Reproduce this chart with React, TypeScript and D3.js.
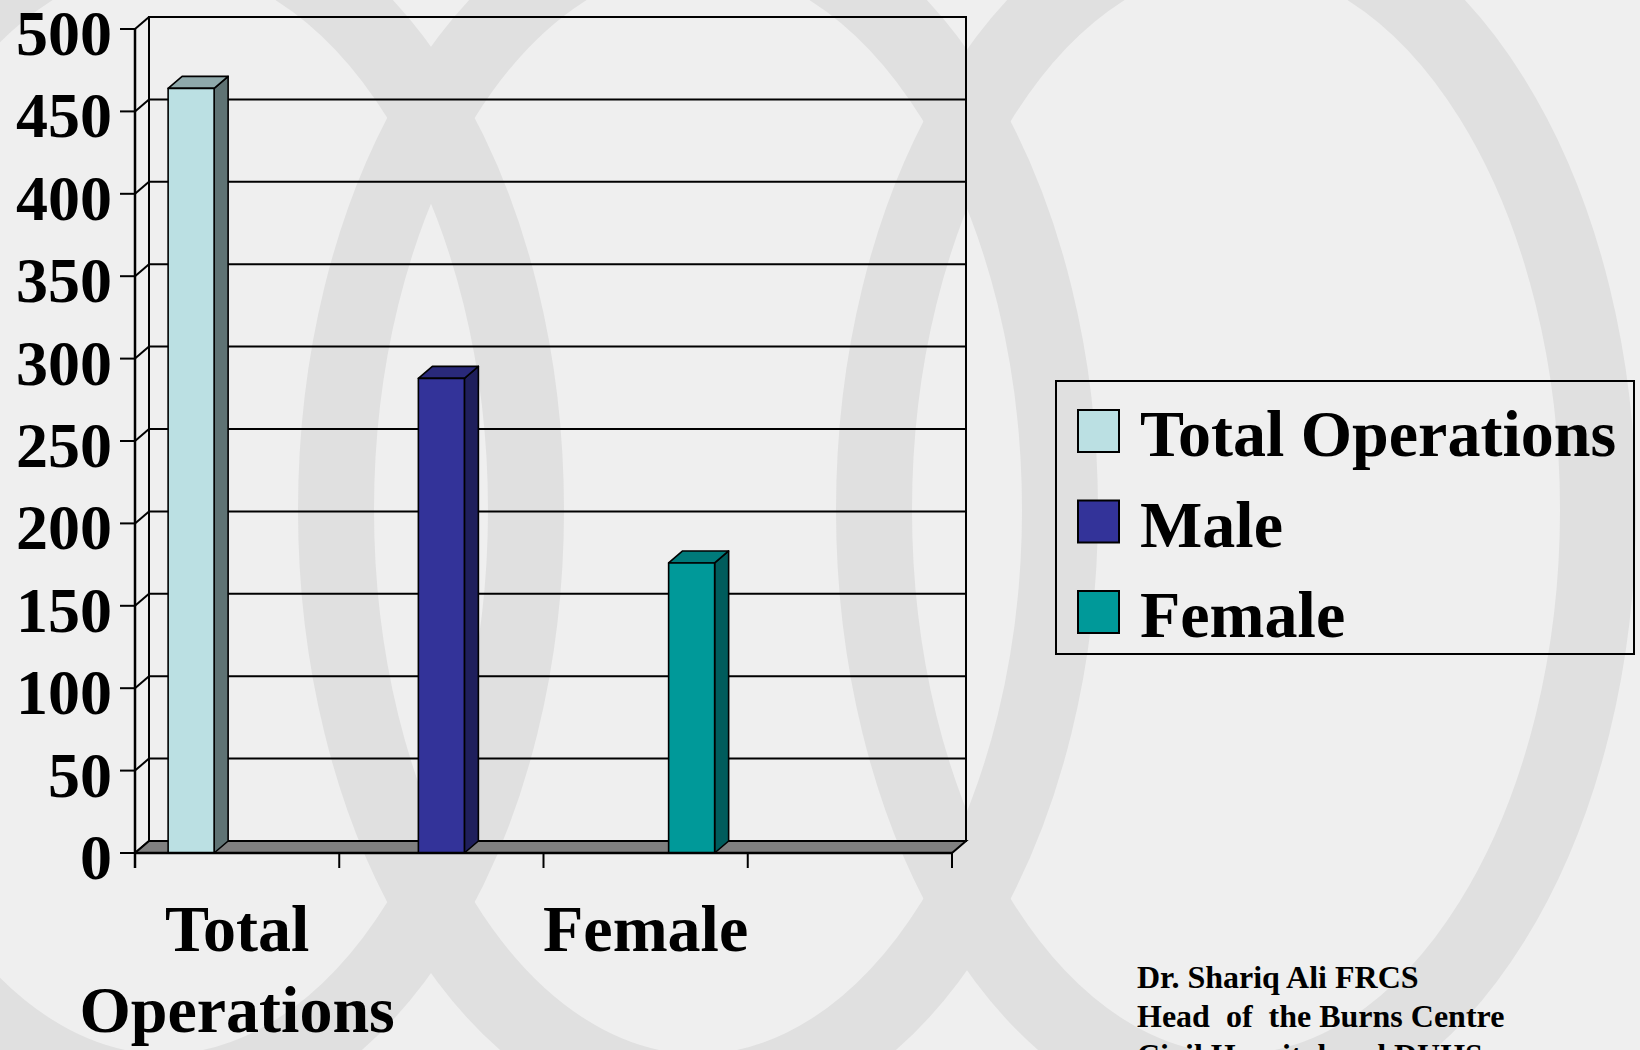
import React, { useEffect, useRef } from "react";
import * as d3 from "d3";

// chart data
const categories = ["Total Operations", "Male", "Female", ""];
const seriesNames = ["Total Operations", "Male", "Female"];
const totalOperations = [464, null, null, null];
const male = [null, 288, null, null];
const female = [null, null, 176, null];
const yTicks = [0, 50, 100, 150, 200, 250, 300, 350, 400, 450, 500];
const footerLines = [
  "Dr. Shariq Ali FRCS",
  "Head  of  the Burns Centre",
  "Civil Hospital and DUHS",
];

const seriesValues = [totalOperations, male, female];
const frontColors = ["#BBE0E3", "#333399", "#009999"];
const topColors = ["#8FA9AB", "#29297A", "#007A7A"];
const sideColors = ["#5F7374", "#1F1F5C", "#005C5C"];

const W = 1640;
const H = 1050;
const font = "'Liberation Serif', 'Times New Roman', serif";

export default function App() {
  const ref = useRef<SVGSVGElement>(null);

  useEffect(() => {
    const svg = d3.select(ref.current);
    svg.selectAll("*").remove();

    // background with the big pale rings
    svg.append("rect").attr("width", W).attr("height", H).attr("fill", "#EFEFEF");
    svg
      .selectAll("ellipse.ring")
      .data([164, 698, 1236])
      .enter()
      .append("ellipse")
      .attr("class", "ring")
      .attr("cx", (d) => d)
      .attr("cy", 510)
      .attr("rx", 362)
      .attr("ry", 582)
      .attr("fill", "none")
      .attr("stroke", "#E0E0E0")
      .attr("stroke-width", 76);

    const x = d3.scaleBand().domain(categories).range([135, 952]);
    const xs = d3
      .scaleBand()
      .domain(seriesNames)
      .range([0, x.bandwidth()])
      .paddingInner(0)
      .paddingOuter(0.72);
    const y = d3.scaleLinear().domain([0, 500]).range([853, 29]);
    const dx = 14;
    const dy = 12;
    const x0 = x.range()[0];
    const x1 = x.range()[1];
    const yTop = y(500);
    const yBase = y(0);

    const chart = svg.append("g").attr("stroke", "#000").attr("stroke-width", 2);

    // back wall + gridlines
    chart
      .append("rect")
      .attr("x", x0 + dx)
      .attr("y", yTop - dy)
      .attr("width", x1 - x0)
      .attr("height", yBase - yTop)
      .attr("fill", "none");

    chart
      .selectAll("line.grid")
      .data(yTicks.filter((v) => v > 0 && v < 500))
      .enter()
      .append("line")
      .attr("class", "grid")
      .attr("x1", x0 + dx)
      .attr("x2", x1 + dx)
      .attr("y1", (d) => y(d) - dy)
      .attr("y2", (d) => y(d) - dy);

    // side wall diagonals
    chart
      .selectAll("line.side")
      .data(yTicks)
      .enter()
      .append("line")
      .attr("class", "side")
      .attr("x1", x0)
      .attr("y1", (d) => y(d))
      .attr("x2", x0 + dx)
      .attr("y2", (d) => y(d) - dy);

    // floor
    chart
      .append("polygon")
      .attr(
        "points",
        [
          [x0, yBase],
          [x1, yBase],
          [x1 + dx, yBase - dy],
          [x0 + dx, yBase - dy],
        ]
          .map((p) => p.join(","))
          .join(" ")
      )
      .attr("fill", "#808080");

    // bars
    seriesValues.forEach((vals, si) => {
      vals.forEach((v, ci) => {
        if (v == null) return;
        const bx = x(categories[ci]) + xs(seriesNames[si]);
        const bw = xs.bandwidth();
        const yv = y(v);
        const g = chart.append("g").attr("stroke-width", 1.6).attr("stroke-linejoin", "round");
        g.append("polygon")
          .attr(
            "points",
            [
              [bx + bw, yv],
              [bx + bw + dx, yv - dy],
              [bx + bw + dx, yBase - dy],
              [bx + bw, yBase],
            ]
              .map((p) => p.join(","))
              .join(" ")
          )
          .attr("fill", sideColors[si]);
        g.append("polygon")
          .attr(
            "points",
            [
              [bx, yv],
              [bx + dx, yv - dy],
              [bx + bw + dx, yv - dy],
              [bx + bw, yv],
            ]
              .map((p) => p.join(","))
              .join(" ")
          )
          .attr("fill", topColors[si]);
        g.append("rect")
          .attr("x", bx)
          .attr("y", yv)
          .attr("width", bw)
          .attr("height", yBase - yv)
          .attr("fill", frontColors[si]);
      });
    });

    // axes
    chart
      .append("line")
      .attr("x1", x0)
      .attr("x2", x1)
      .attr("y1", yBase)
      .attr("y2", yBase)
      .attr("stroke-width", 2.5);
    chart
      .append("line")
      .attr("x1", x0)
      .attr("x2", x0)
      .attr("y1", yTop)
      .attr("y2", yBase + 15)
      .attr("stroke-width", 2.5);

    chart
      .selectAll("line.ytick")
      .data(yTicks)
      .enter()
      .append("line")
      .attr("class", "ytick")
      .attr("x1", x0 - 15)
      .attr("x2", x0)
      .attr("y1", (d) => y(d))
      .attr("y2", (d) => y(d));

    chart
      .selectAll("line.xtick")
      .data(categories.map((c) => x(c)).concat([x1]))
      .enter()
      .append("line")
      .attr("class", "xtick")
      .attr("x1", (d) => d)
      .attr("x2", (d) => d)
      .attr("y1", yBase)
      .attr("y2", yBase + 15);

    svg
      .selectAll("text.ylab")
      .data(yTicks)
      .enter()
      .append("text")
      .attr("class", "ylab")
      .attr("x", 112)
      .attr("y", (d) => y(d) + 26)
      .attr("text-anchor", "end")
      .attr("font-family", font)
      .attr("font-weight", "bold")
      .attr("font-size", 64)
      .text((d) => d);

    // category labels, every other one like the original
    categories.forEach((c, i) => {
      if (i % 2 !== 0 || !c) return;
      const t = svg
        .append("text")
        .attr("text-anchor", "middle")
        .attr("font-family", font)
        .attr("font-weight", "bold")
        .attr("font-size", 66);
      c.split(" ").forEach((word, li) => {
        t.append("tspan")
          .attr("x", x(c) + x.bandwidth() / 2)
          .attr("y", 951 + li * 81)
          .text(word);
      });
    });

    // legend
    const legend = svg.append("g");
    legend
      .append("rect")
      .attr("x", 1056)
      .attr("y", 381)
      .attr("width", 578)
      .attr("height", 273)
      .attr("fill", "none")
      .attr("stroke", "#000")
      .attr("stroke-width", 2);
    seriesNames.forEach((name, i) => {
      legend
        .append("rect")
        .attr("x", 1078)
        .attr("y", 410 + i * 90.5)
        .attr("width", 41)
        .attr("height", 42)
        .attr("fill", frontColors[i])
        .attr("stroke", "#000")
        .attr("stroke-width", 2);
      legend
        .append("text")
        .attr("x", 1140)
        .attr("y", 456 + i * 90.5)
        .attr("font-family", font)
        .attr("font-weight", "bold")
        .attr("font-size", 66)
        .text(name);
    });

    // footer
    svg
      .selectAll("text.footer")
      .data(footerLines)
      .enter()
      .append("text")
      .attr("class", "footer")
      .attr("x", 1137)
      .attr("y", (d, i) => 988 + i * 39)
      .attr("font-family", font)
      .attr("font-weight", "bold")
      .attr("font-size", 32)
      .style("white-space", "pre")
      .text((d) => d);
  }, []);

  return (
    <svg
      ref={ref}
      width={W}
      height={H}
      style={{ position: "absolute", left: 0, top: 0, display: "block" }}
    />
  );
}
